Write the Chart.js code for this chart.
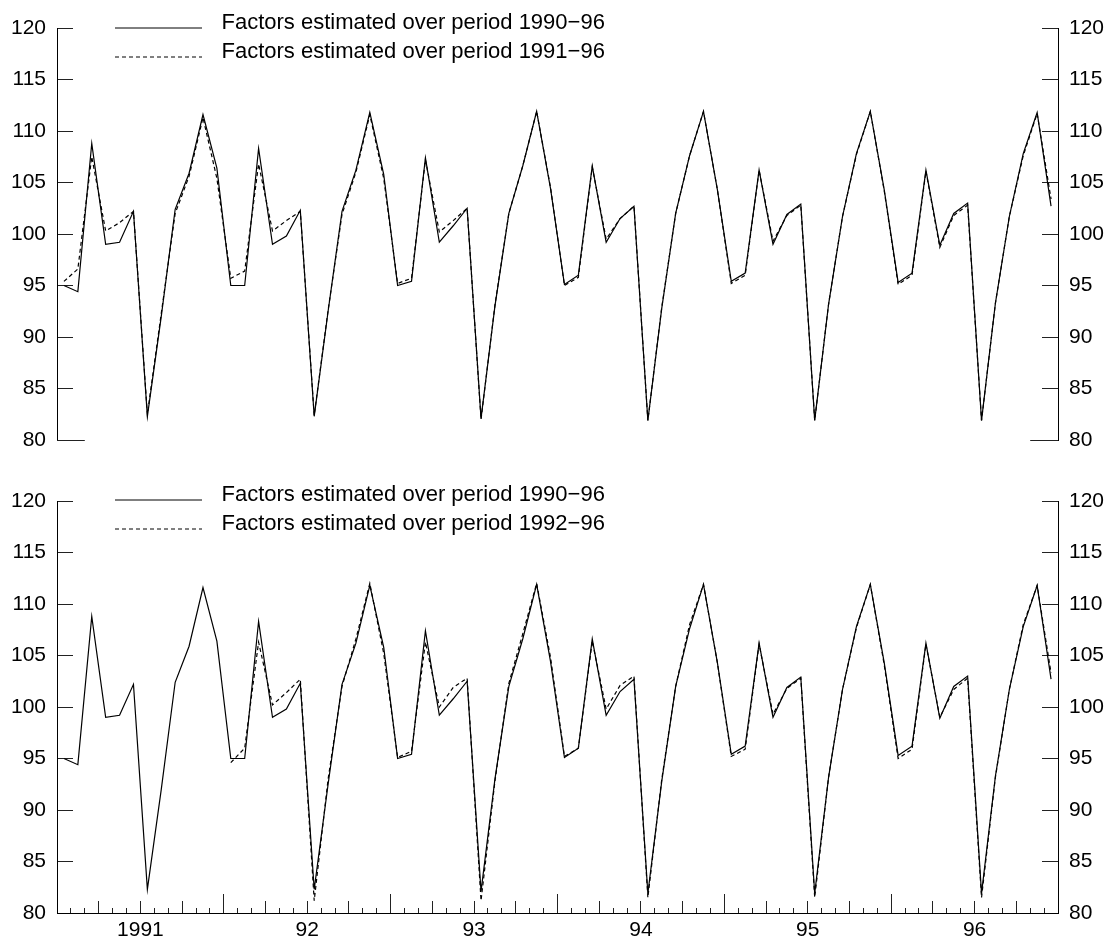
<!DOCTYPE html>
<html><head><meta charset="utf-8">
<script src="https://cdn.jsdelivr.net/npm/chart.js@4/dist/chart.umd.min.js"></script>
<style>
html,body{margin:0;padding:0;background:#fff;}
#wrap{position:relative;width:1115px;height:945px;overflow:hidden;}
canvas{position:absolute;left:0;}
#c1{top:0;} #c2{top:470px;}
</style></head><body>
<div id="wrap"><canvas id="c1" width="1115" height="470"></canvas><canvas id="c2" width="1115" height="475"></canvas></div>
<script>
const FONT = '"Liberation Sans", Arial, Helvetica, sans-serif';

// x axis: months from Jan 1991 (0) to end of 1996 (72); points at mid-month
const yearLabels = ['1991', '92', '93', '94', '95', '96'];
const yTicks = [80, 85, 90, 95, 100, 105, 110, 115, 120];

// Seasonal factors, Jan 1991 .. Dec 1996, estimated over 1990-96
const est9096 = [
  95.0, 94.4, 108.8, 99.0, 99.2, 102.2, 82.3, 92.0, 102.4, 105.9, 111.6, 106.4,
  95.0, 95.0, 108.3, 99.0, 99.8, 102.3, 82.3, 92.5, 102.2, 106.2, 111.8, 105.8,
  95.0, 95.4, 107.4, 99.2, 100.8, 102.5, 82.1, 93.0, 102.0, 106.6, 111.9, 104.4,
  95.1, 96.0, 106.6, 99.2, 101.5, 102.7, 81.9, 92.8, 102.0, 107.6, 111.9, 104.3,
  95.4, 96.2, 106.2, 99.0, 101.9, 102.9, 81.9, 93.2, 101.7, 107.8, 111.9, 104.3,
  95.3, 96.2, 106.2, 98.9, 102.0, 103.0, 81.9, 93.3, 101.7, 107.8, 111.8, 102.7
];
// estimated over 1991-96, Jan 1991 .. Dec 1996
const est9196 = [
  95.4, 96.6, 107.5, 100.3, 101.1, 102.2, 82.5, 92.3, 102.0, 105.6, 111.3, 105.4,
  95.7, 96.4, 106.8, 100.3, 101.3, 102.2, 82.4, 92.6, 101.9, 106.0, 111.6, 105.4,
  95.2, 95.7, 107.2, 100.2, 101.3, 102.5, 82.0, 93.1, 102.0, 106.6, 111.9, 104.5,
  95.0, 95.8, 106.5, 99.5, 101.5, 102.7, 81.9, 92.9, 102.0, 107.6, 111.9, 104.3,
  95.2, 96.0, 106.2, 99.3, 101.8, 102.8, 81.9, 93.2, 101.7, 107.7, 111.9, 104.2,
  95.1, 96.0, 106.1, 98.7, 101.8, 102.8, 81.9, 93.3, 101.7, 107.6, 111.7, 103.4
];
// estimated over 1992-96, Jan 1992 .. Dec 1996
const est9296Start = 12;
const est9296 = [
  94.6, 96.0, 106.3, 100.2, 101.4, 102.7, 81.2, 93.0, 102.0, 106.6, 112.0, 105.2,
  95.1, 95.7, 106.3, 100.0, 101.9, 102.8, 81.2, 92.8, 102.3, 107.1, 112.0, 104.8,
  95.2, 96.0, 106.4, 99.8, 102.1, 103.0, 81.5, 93.0, 102.0, 108.0, 111.9, 104.3,
  95.2, 95.9, 106.1, 99.3, 101.8, 102.8, 81.5, 93.2, 101.7, 107.7, 111.9, 104.1,
  95.0, 95.9, 106.1, 99.0, 101.7, 102.8, 81.5, 93.2, 101.7, 108.0, 111.8, 103.3
];
const legendTop = ['Factors estimated over period 1990\u221296', 'Factors estimated over period 1991\u221296'];
const legendBottom = ['Factors estimated over period 1990\u221296', 'Factors estimated over period 1992\u221296'];

const toXY = (vals, start) => vals.map((v, i) => ({x: start + i + 0.5, y: v}));
const range = (a, b, s) => { const r = []; for (let v = a; v <= b; v += s) r.push(v); return r; };

function yAxis(position) {
  return {
    type: 'linear', position, min: 80, max: 120,
    afterBuildTicks: ax => { ax.ticks = yTicks.map(v => ({value: v})); },
    afterFit: ax => { ax.width = 57; ax.paddingTop = 0; ax.paddingBottom = 0; },
    grid: {drawOnChartArea: false, drawTicks: true, tickLength: -16, color: '#222', tickColor: '#222', lineWidth: 1},
    border: {display: true, color: '#000', width: 1},
    ticks: {padding: 27, color: '#000', font: {family: FONT, size: 21}, autoSkip: false}
  };
}
function tickAxis(step, len) {
  return {
    type: 'linear', position: 'bottom', min: 0, max: 72, weight: 0,
    afterBuildTicks: ax => { ax.ticks = range(0, 72, step).map(v => ({value: v})); },
    afterFit: ax => { ax.height = 0; ax.paddingLeft = 0; ax.paddingRight = 0; },
    grid: {drawOnChartArea: false, drawTicks: true, tickLength: -len, tickColor: '#222', color: '#222', lineWidth: 1},
    border: {display: false},
    ticks: {display: false}
  };
}

function legendPlugin(texts, base) {
  return {
    id: 'customLegend',
    afterDraw(chart) {
      const ctx = chart.ctx;
      ctx.save();
      ctx.strokeStyle = '#000';
      ctx.lineWidth = 1;
      ctx.beginPath(); ctx.setLineDash([]);
      ctx.moveTo(115, base[0] - 0.5); ctx.lineTo(202, base[0] - 0.5); ctx.stroke();
      ctx.beginPath(); ctx.setLineDash([4, 3]);
      ctx.moveTo(115, base[1] - 0.5); ctx.lineTo(202, base[1] - 0.5); ctx.stroke();
      ctx.setLineDash([]);
      ctx.fillStyle = '#000';
      ctx.font = '22px ' + FONT;
      ctx.textBaseline = 'alphabetic';
      ctx.textAlign = 'left';
      ctx.fillText(texts[0], 221.5, base[0] + 0.5);
      ctx.fillText(texts[1], 221.5, base[1] + 0.5);
      ctx.restore();
    }
  };
}
const baseStub = {
  id: 'baseStub',
  afterDraw(chart) {
    const ctx = chart.ctx, xs = chart.scales.x, ys = chart.scales.y;
    const y = Math.round(ys.getPixelForValue(80)) + 0.5;
    ctx.save(); ctx.strokeStyle = '#222'; ctx.lineWidth = 1;
    ctx.beginPath();
    ctx.moveTo(xs.getPixelForValue(0), y); ctx.lineTo(xs.getPixelForValue(2), y);
    ctx.moveTo(xs.getPixelForValue(70), y); ctx.lineTo(xs.getPixelForValue(72), y);
    ctx.stroke(); ctx.restore();
  }
};

function ds(label, data, dashed) {
  return {label, data, borderColor: '#000', backgroundColor: '#000', borderWidth: 1.2,
    borderDash: dashed ? [4, 3] : [], pointRadius: 0, tension: 0, fill: false, spanGaps: false};
}

const common = {
  responsive: false, animation: false, devicePixelRatio: 1,
  plugins: {legend: {display: false}, tooltip: {enabled: false}}
};

new Chart(document.getElementById('c1'), {
  type: 'line',
  data: {datasets: [
    ds(legendTop[1], toXY(est9196, 0), true),
    ds(legendTop[0], toXY(est9096, 0), false)
  ]},
  options: Object.assign({}, common, {
    layout: {padding: {top: 28, bottom: 30, left: 0, right: 0}},
    scales: {
      x: {type: 'linear', min: 0, max: 72, display: false},
      y: yAxis('left'),
      y2: yAxis('right')
    }
  }),
  plugins: [legendPlugin(legendTop, [28.5, 57.5]), baseStub]
});

new Chart(document.getElementById('c2'), {
  type: 'line',
  data: {datasets: [
    ds(legendBottom[1], toXY(est9296, est9296Start), true),
    ds(legendBottom[0], toXY(est9096, 0), false)
  ]},
  options: Object.assign({}, common, {
    layout: {padding: {top: 31, bottom: 0, left: 0, right: 0}},
    scales: {
      xm: tickAxis(1, 5),
      xq: tickAxis(3, 12),
      xy: tickAxis(12, 19),
      x: {
        type: 'linear', position: 'bottom', min: 0, max: 72, weight: 10,
        afterBuildTicks: ax => { ax.ticks = yearLabels.map((l, i) => ({value: 6 + 12 * i})); },
        afterFit: ax => { ax.height = 32; ax.paddingLeft = 0; ax.paddingRight = 0; },
        grid: {drawOnChartArea: false, drawTicks: false},
        border: {display: true, color: '#000', width: 1},
        ticks: {padding: 5, color: '#000', font: {family: FONT, size: 21}, autoSkip: false, maxRotation: 0,
          callback: (v) => yearLabels[Math.round((v - 6) / 12)]}
      },
      y: yAxis('left'),
      y2: yAxis('right')
    }
  }),
  plugins: [legendPlugin(legendBottom, [30.5, 59.5])]
});
</script>
</body></html>
